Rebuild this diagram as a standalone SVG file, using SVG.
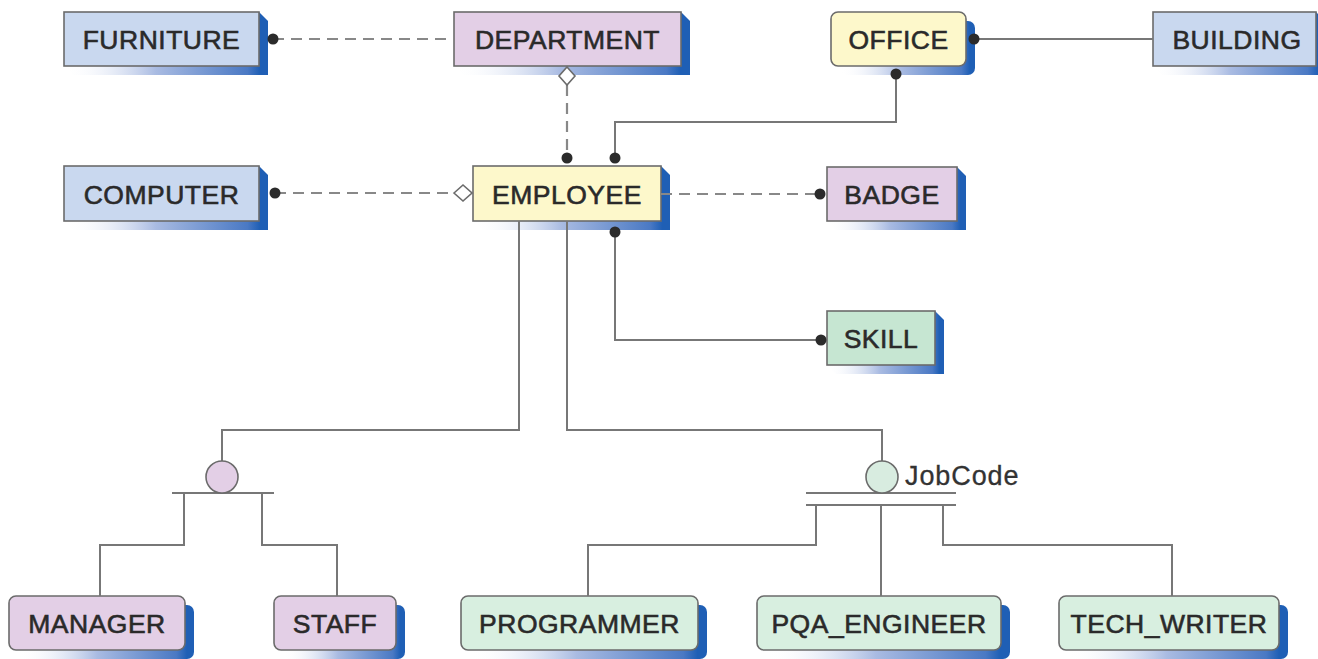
<svg xmlns="http://www.w3.org/2000/svg" width="1318" height="659" viewBox="0 0 1318 659">
  <defs>
    <linearGradient id="shade" x1="0" y1="0" x2="1" y2="0">
      <stop offset="0" stop-color="#ffffff" stop-opacity="0"/>
      <stop offset="0.45" stop-color="#a9bbe2"/>
      <stop offset="0.9" stop-color="#4a79c4"/>
      <stop offset="0.96" stop-color="#1f5fb5"/>
      <stop offset="1" stop-color="#1f5fb5"/>
    </linearGradient>
  </defs>
  <style>
    .shadow { fill: url(#shade); }
    .box { stroke: #6b6b6b; stroke-width: 1.6; }
    .blue { fill: #c9d8ef; }
    .purple { fill: #e3cfe6; }
    .yellow { fill: #fdf8cb; }
    .green { fill: #c6e6d2; }
    .mint { fill: #d8efe0; }
    .label { font-family: "Liberation Sans", Arial, sans-serif; font-size: 26.5px; fill: #2a2a2a; text-anchor: middle; letter-spacing: 0.5px; stroke: #2a2a2a; stroke-width: 0.6; }
    .line { fill: none; stroke: #777777; stroke-width: 2; }
    .dash { fill: none; stroke: #888888; stroke-width: 2.2; stroke-dasharray: 11 7; }
    .dot { fill: #2b2b2b; }
    .diamond { fill: #ffffff; stroke: #6b6b6b; stroke-width: 1.6; }
    .note { font-family: "Liberation Sans", Arial, sans-serif; font-size: 27px; fill: #333333; letter-spacing: 0.9px; stroke: #333333; stroke-width: 0.3; }
  </style>
  <rect width="1318" height="659" fill="#ffffff"/>

  <g id="furniture">
    <path class="shadow" d="M259 12 L268 21 L268 75 L73 75 L64 66 Z"/>
    <rect class="box blue" x="64" y="12" width="195" height="54"/>
    <text class="label" x="161.5" y="48.5">FURNITURE</text>
  </g>
  <g id="department">
    <path class="shadow" d="M681 12 L690 21 L690 75 L463 75 L454 66 Z"/>
    <rect class="box purple" x="454" y="12" width="227" height="54"/>
    <text class="label" x="567.5" y="48.5">DEPARTMENT</text>
  </g>
  <g id="office">
    <rect class="shadow" x="840" y="21" width="135" height="54" rx="7"/>
    <rect class="box yellow" x="831" y="12" width="135" height="54" rx="7"/>
    <text class="label" x="898.5" y="48.5">OFFICE</text>
  </g>
  <g id="building">
    <path class="shadow" d="M1316 12 L1325 21 L1325 75 L1162 75 L1153 66 Z"/>
    <rect class="box blue" x="1153" y="12" width="163" height="54"/>
    <text class="label" x="1237" y="48.5">BUILDING</text>
  </g>
  <g id="computer">
    <path class="shadow" d="M259 166 L268 175 L268 230 L73 230 L64 221 Z"/>
    <rect class="box blue" x="64" y="166" width="195" height="55"/>
    <text class="label" x="161.5" y="203.5">COMPUTER</text>
  </g>
  <g id="employee">
    <path class="shadow" d="M661 166 L670 175 L670 230 L482 230 L473 221 Z"/>
    <rect class="box yellow" x="473" y="166" width="188" height="55"/>
    <text class="label" x="567" y="203.5">EMPLOYEE</text>
  </g>
  <g id="badge">
    <path class="shadow" d="M957 167 L966 176 L966 230 L836 230 L827 221 Z"/>
    <rect class="box purple" x="827" y="167" width="130" height="54"/>
    <text class="label" x="892" y="203.5">BADGE</text>
  </g>
  <g id="skill">
    <path class="shadow" d="M935 311 L944 320 L944 374 L836 374 L827 365 Z"/>
    <rect class="box green" x="827" y="311" width="108" height="54"/>
    <text class="label" x="881" y="347.5">SKILL</text>
  </g>
  <g id="manager">
    <rect class="shadow" x="18" y="605" width="176" height="54" rx="7"/>
    <rect class="box purple" x="9" y="596" width="176" height="54" rx="7"/>
    <text class="label" x="97" y="632.5">MANAGER</text>
  </g>
  <g id="staff">
    <rect class="shadow" x="283" y="605" width="122" height="54" rx="7"/>
    <rect class="box purple" x="274" y="596" width="122" height="54" rx="7"/>
    <text class="label" x="335" y="632.5">STAFF</text>
  </g>
  <g id="programmer">
    <rect class="shadow" x="470" y="605" width="237" height="54" rx="7"/>
    <rect class="box mint" x="461" y="596" width="237" height="54" rx="7"/>
    <text class="label" x="579.5" y="632.5">PROGRAMMER</text>
  </g>
  <g id="pqa_engineer">
    <rect class="shadow" x="766" y="605" width="244" height="54" rx="7"/>
    <rect class="box mint" x="757" y="596" width="244" height="54" rx="7"/>
    <text class="label" x="879" y="632.5">PQA_ENGINEER</text>
  </g>
  <g id="tech_writer">
    <rect class="shadow" x="1068" y="605" width="220" height="54" rx="7"/>
    <rect class="box mint" x="1059" y="596" width="220" height="54" rx="7"/>
    <text class="label" x="1169" y="632.5">TECH_WRITER</text>
  </g>

  <!-- connectors, drawn over the node shadows so the end markers stay visible -->
  <g id="connectors">
    <path class="dash" d="M273 39 H454"/>
    <path class="dash" d="M567 85 V158"/>
    <path class="line" d="M974 39 H1153"/>
    <path class="line" d="M896 74 V122 H615 V158"/>
    <path class="dash" d="M275 193 H455"/>
    <path class="dash" d="M661 194 H820"/>
    <path class="line" d="M615 232 V340 H821"/>
    <!-- subtype cluster: MANAGER / STAFF -->
    <path class="line" d="M519 221 V430 H222 V461"/>
    <path class="line" d="M172 493 H274"/>
    <path class="line" d="M184 493 V545 H100 V596"/>
    <path class="line" d="M262 493 V545 H337 V596"/>
    <!-- subtype cluster: JobCode -->
    <path class="line" d="M567 221 V430 H882 V461"/>
    <path class="line" d="M806 493 H956 M806 505 H956"/>
    <path class="line" d="M816 505 V545 H588 V596"/>
    <path class="line" d="M881 505 V596"/>
    <path class="line" d="M943 505 V545 H1172 V596"/>
    <!-- end markers -->
    <circle class="dot" cx="273" cy="39" r="5.5"/>
    <circle class="dot" cx="974" cy="39" r="5.5"/>
    <circle class="dot" cx="896" cy="74" r="5.5"/>
    <circle class="dot" cx="567" cy="158" r="5.5"/>
    <circle class="dot" cx="615" cy="158" r="5.5"/>
    <circle class="dot" cx="275" cy="193" r="5.5"/>
    <circle class="dot" cx="820" cy="194" r="5.5"/>
    <circle class="dot" cx="615" cy="232" r="5.5"/>
    <circle class="dot" cx="821" cy="340" r="5.5"/>
    <path class="diamond" d="M567 67 L575 76 L567 85 L559 76 Z"/>
    <path class="diamond" d="M454 193 L463 185 L472 193 L463 201 Z"/>
    <circle cx="222" cy="477" r="16" fill="#e3cfe6" stroke="#6b6b6b" stroke-width="1.6"/>
    <circle cx="882" cy="477" r="16" fill="#d8ece0" stroke="#6b6b6b" stroke-width="1.6"/>
    <text class="note" x="905" y="485">JobCode</text>
  </g>
</svg>
